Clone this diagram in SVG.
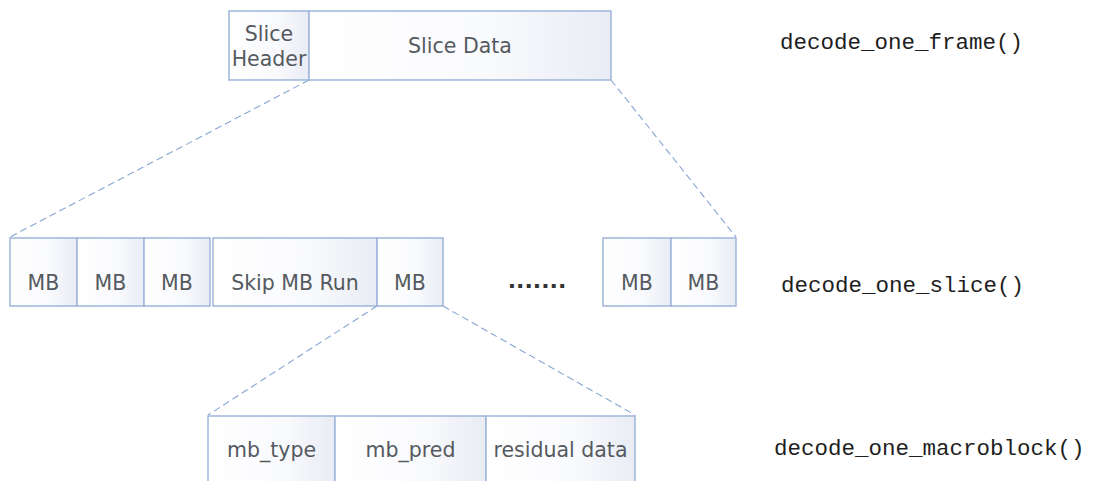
<svg xmlns="http://www.w3.org/2000/svg" width="1093" height="481" viewBox="0 0 1093 481">
  <style>
    .box { fill: url(#cell); stroke: #9db5da; stroke-width: 1.5; }
    .lbl { font-family: "DejaVu Sans", Verdana, sans-serif; font-size: 20.5px; fill: #555a60; text-anchor: middle; }
    .fn { font-family: "Liberation Mono", "Courier New", monospace; font-size: 22.5px; fill: #1e1e1e; }
    .link { fill: none; stroke: #86a5d3; stroke-width: 1.1; stroke-dasharray: 7 4; }
  </style>
  <defs>
    <linearGradient id="cell" x1="0" y1="0" x2="1" y2="0">
      <stop offset="0" stop-color="#ffffff"/>
      <stop offset="0.6" stop-color="#f9fafd"/>
      <stop offset="1" stop-color="#e9ecf4"/>
    </linearGradient>
  </defs>
  <rect width="1093" height="481" fill="#ffffff"/>

  <!-- dashed expansion lines between levels -->
  <g id="connectors">
    <line class="link" x1="309" y1="80" x2="10" y2="237"/>
    <line class="link" x1="611" y1="80" x2="736" y2="237"/>
    <line class="link" x1="377" y1="306" x2="208" y2="415"/>
    <line class="link" x1="443" y1="306" x2="635" y2="415"/>
  </g>

  <!-- frame level -->
  <g id="slice-header">
    <rect class="box" x="229" y="11" width="80" height="69"/>
    <text class="lbl" x="269" y="41">Slice</text>
    <text class="lbl" x="269" y="66">Header</text>
  </g>
  <g id="slice-data">
    <rect class="box" x="309" y="11" width="302" height="69"/>
    <text class="lbl" x="460" y="53">Slice Data</text>
  </g>

  <!-- slice level -->
  <g id="mb-1">
    <rect class="box" x="10" y="238" width="67" height="68"/>
    <text class="lbl" x="43.5" y="290">MB</text>
  </g>
  <g id="mb-2">
    <rect class="box" x="77" y="238" width="67" height="68"/>
    <text class="lbl" x="110.5" y="290">MB</text>
  </g>
  <g id="mb-3">
    <rect class="box" x="144" y="238" width="66" height="68"/>
    <text class="lbl" x="177" y="290">MB</text>
  </g>
  <g id="skip-run">
    <rect class="box" x="213" y="238" width="164" height="68"/>
    <text class="lbl" x="295" y="290">Skip MB Run</text>
  </g>
  <g id="mb-4">
    <rect class="box" x="377" y="238" width="66" height="68"/>
    <text class="lbl" x="410" y="290">MB</text>
  </g>
  <g id="ellipsis">
    <text x="537" y="288" font-family="DejaVu Sans, sans-serif" font-size="22" font-weight="bold" fill="#333" text-anchor="middle">.......</text>
  </g>
  <g id="mb-5">
    <rect class="box" x="603" y="238" width="68" height="68"/>
    <text class="lbl" x="637" y="290">MB</text>
  </g>
  <g id="mb-6">
    <rect class="box" x="671" y="238" width="65" height="68"/>
    <text class="lbl" x="703.5" y="290">MB</text>
  </g>

  <!-- macroblock level -->
  <g id="mb-type">
    <rect class="box" x="208" y="416" width="127" height="80"/>
    <text class="lbl" x="271.5" y="457">mb_type</text>
  </g>
  <g id="mb-pred">
    <rect class="box" x="335" y="416" width="151" height="80"/>
    <text class="lbl" x="410.5" y="457">mb_pred</text>
  </g>
  <g id="residual">
    <rect class="box" x="486" y="416" width="149" height="80"/>
    <text class="lbl" x="560.5" y="457">residual data</text>
  </g>

  <!-- decoder functions for each level -->
  <g id="fn-frame"><text class="fn" x="780" y="49">decode_one_frame()</text></g>
  <g id="fn-slice"><text class="fn" x="781" y="292">decode_one_slice()</text></g>
  <g id="fn-mb"><text class="fn" x="774" y="455">decode_one_macroblock()</text></g>
</svg>
